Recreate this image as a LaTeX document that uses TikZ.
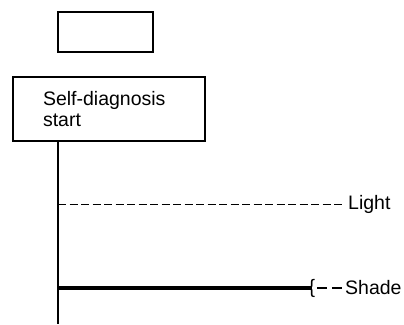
\documentclass[tikz,border=0pt]{standalone}
\usepackage{fontspec}
\setmainfont{Liberation Sans}
\begin{document}
\begin{tikzpicture}[x=1pt,y=-1pt,
  box/.style={draw,line width=1.8pt,rectangle},
  lbl/.style={inner sep=0pt,font=\fontsize{19.5}{21}\selectfont},
  trunkline/.style={line width=2pt},
  dashline/.style={line width=1.8pt,dash pattern=on 8pt off 3.5pt},
  thickline/.style={line width=3.8pt}]
\useasboundingbox (0,0) rectangle (404,324);
\node[box,minimum width=95pt,minimum height=40pt] (top) at (105.5,32) {};
\node[box,minimum width=192pt,minimum height=64pt,text width=132pt,inner xsep=30pt,inner ysep=0pt,align=left,
  font=\fontsize{19.5}{21}\selectfont] (start) at (109,109) {Self-diagnosis\\start};
\coordinate (trunkbot) at (58,324);
\coordinate (lightstart) at (58,204.5);
\coordinate (shadestart) at (58,288);
\node[lbl,anchor=west] (light) at (348,204.5) {Light};
\node[lbl] (brace) at (312,288) {\{};
\node[lbl,anchor=west] (shade) at (345,288) {Shade};
\draw[trunkline] (trunkbot |- start.south) -- (trunkbot);
\draw[dashline] (lightstart) -- ([xshift=-5pt]light.west);
\draw[thickline] (shadestart) -- (brace.center);
\draw[line width=1.8pt,dash pattern=on 10pt off 4.5pt] ([xshift=2pt]brace.east) -- ([xshift=-0.5pt]shade.west);
\end{tikzpicture}
\end{document}
